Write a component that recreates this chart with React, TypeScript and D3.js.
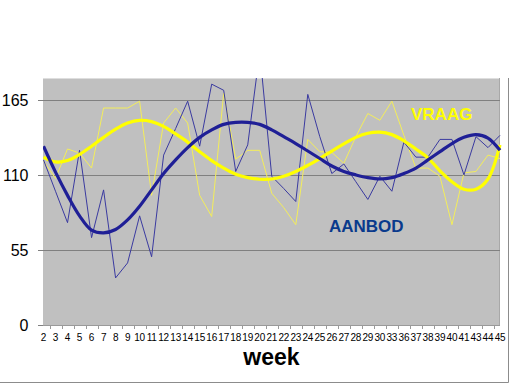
import React, { useEffect, useRef } from 'react';
import * as d3 from 'd3';

const weeks = [
  '2', '3', '4', '5', '6', '7', '8', '9', '10', '11', '12', '13', '14', '15', '16', '17', '18', '19', '20',
  '21', '22', '23', '24', '25', '26', '27', '28', '29', '30', '33', '36', '37', '38', '39', '40', '41', '43', '44', '45'
];

// weekly supply (AANBOD) and demand (VRAAG)
const aanbod = [
  121, 98, 75, 128, 64, 99, 34.5, 45.5, 80, 50, 124.5, 144, 164, 131, 176.5, 172, 112.5, 132, 200,
  109, 100, 90.5, 169, 138, 111, 118, 105, 92, 109, 98, 134, 123, 123, 136, 136, 110, 138, 130, 139
];
const vraag = [
  120, 107.5, 129, 126, 115, 159, 159, 159, 164, 95, 148, 159, 148, 95, 79.5, 170, 121.5, 128, 128,
  96.5, 86, 73.5, 136, 127, 126.5, 118.5, 138, 155, 150, 164, 139, 115, 115, 109, 73.5, 111.5, 112.5, 124.5, 122
];

// trend lines
const aanbodTrend = [
  131, 112, 95, 80, 69.5, 67.5, 70, 77, 87, 99, 111, 121, 130, 137.5, 143, 147, 148.5, 148.5, 147,
  143, 138, 133, 127.5, 122, 116.5, 112.5, 110, 108, 107, 108, 111, 115, 121, 127, 133, 137.5, 139.5, 137, 128
];
const vraagTrend = [
  123, 119.5, 120.5, 125, 131, 137.5, 143.5, 148, 150, 149, 145.5, 140, 134, 127, 120.5, 115, 110.5, 108, 106.8,
  107, 109, 112.5, 117, 122, 127.5, 132.7, 137.5, 140.5, 141.3, 139.5, 135, 129, 122.5, 113, 105, 99.5, 99.5, 107, 132
];

const yTicks = [0, 55, 110, 165];

const App: React.FC = () => {
  const svgRef = useRef<SVGSVGElement>(null);

  useEffect(() => {
    if (!svgRef.current) return;
    const svg = d3.select(svgRef.current);
    svg.selectAll('*').remove();

    const left = 43;
    const right = 500;
    const top = 78;
    const bottom = 325;

    const x = d3.scalePoint<string>().domain(weeks).range([left + 0.5, right]);
    const y = d3.scaleLinear().domain([0, 181]).range([bottom, top]);
    const step = x.step();

    // outer frame (right + bottom only)
    svg.append('path')
      .attr('d', `M0,382.5 H508.5 V${top}`)
      .attr('fill', 'none')
      .attr('stroke', '#8c8c8c')
      .attr('stroke-width', 1);

    // plot background
    svg.append('rect')
      .attr('x', left)
      .attr('y', top)
      .attr('width', right - left)
      .attr('height', bottom - top)
      .attr('fill', '#c0c0c0');

    svg.append('line')
      .attr('x1', left).attr('x2', right)
      .attr('y1', top + 0.5).attr('y2', top + 0.5)
      .attr('stroke', '#dedede');
    svg.append('line')
      .attr('x1', right - 0.5).attr('x2', right - 0.5)
      .attr('y1', top).attr('y2', bottom)
      .attr('stroke', '#a8a8a8');

    // gridlines + y ticks
    svg.selectAll('.grid')
      .data(yTicks.filter(d => d > 0))
      .enter()
      .append('line')
      .attr('x1', left - 5)
      .attr('x2', right)
      .attr('y1', d => Math.round(y(d)) + 0.5)
      .attr('y2', d => Math.round(y(d)) + 0.5)
      .attr('stroke', '#808080')
      .attr('stroke-width', 1.2);

    svg.append('line')
      .attr('x1', left - 5).attr('x2', left)
      .attr('y1', bottom + 0.5).attr('y2', bottom + 0.5)
      .attr('stroke', '#808080');

    svg.selectAll('.ylab')
      .data(yTicks)
      .enter()
      .append('text')
      .attr('x', 28.5)
      .attr('y', d => y(d) + 6)
      .attr('text-anchor', 'end')
      .style('font-family', 'Liberation Sans, Arial, sans-serif')
      .style('font-size', '16px')
      .style('fill', '#000')
      .text(d => String(d));

    // x axis
    svg.append('line')
      .attr('x1', left).attr('x2', right)
      .attr('y1', bottom + 0.5).attr('y2', bottom + 0.5)
      .attr('stroke', '#9a9a9a');

    svg.selectAll('.xtick')
      .data(weeks.slice(0, -1))
      .enter()
      .append('line')
      .attr('x1', d => Math.round((x(d) as number) + step / 2) + 0.5)
      .attr('x2', d => Math.round((x(d) as number) + step / 2) + 0.5)
      .attr('y1', bottom)
      .attr('y2', bottom + 4)
      .attr('stroke', '#9a9a9a');

    svg.selectAll('.xlab')
      .data(weeks)
      .enter()
      .append('text')
      .attr('x', d => x(d) as number)
      .attr('y', 341)
      .attr('text-anchor', 'middle')
      .style('font-family', 'Liberation Sans, Arial, sans-serif')
      .style('font-size', '10px')
      .style('letter-spacing', '-0.2px')
      .style('fill', '#000')
      .text(d => d);

    svg.append('text')
      .attr('x', (left + right) / 2)
      .attr('y', 365)
      .attr('text-anchor', 'middle')
      .style('font-family', 'Liberation Sans, Arial, sans-serif')
      .style('font-size', '23px')
      .style('font-weight', 'bold')
      .style('fill', '#000')
      .text('week');

    // lines
    svg.append('clipPath')
      .attr('id', 'plot-clip')
      .append('rect')
      .attr('x', left)
      .attr('y', top)
      .attr('width', right - left + 2)
      .attr('height', bottom - top);

    const g = svg.append('g').attr('clip-path', 'url(#plot-clip)');

    const raw = d3.line<number>()
      .x((_, i) => x(weeks[i]) as number)
      .y(d => y(d));
    const smooth = d3.line<number>()
      .x((_, i) => x(weeks[i]) as number)
      .y(d => y(d))
      .curve(d3.curveCatmullRom);

    g.append('path')
      .datum(vraag)
      .attr('d', raw)
      .attr('fill', 'none')
      .attr('stroke', '#f4ee5a')
      .attr('stroke-width', 1);

    g.append('path')
      .datum(aanbod)
      .attr('d', raw)
      .attr('fill', 'none')
      .attr('stroke', '#3a3aa0')
      .attr('stroke-width', 1);

    g.append('path')
      .datum(vraagTrend)
      .attr('d', smooth)
      .attr('fill', 'none')
      .attr('stroke', '#ffff00')
      .attr('stroke-width', 3.2);

    g.append('path')
      .datum(aanbodTrend)
      .attr('d', smooth)
      .attr('fill', 'none')
      .attr('stroke', '#1f1f96')
      .attr('stroke-width', 3.2);

    // series labels
    svg.append('text')
      .attr('x', 411)
      .attr('y', 120)
      .style('font-family', 'Liberation Sans, Arial, sans-serif')
      .style('font-size', '17px')
      .style('font-weight', 'bold')
      .style('fill', '#ffff00')
      .text('VRAAG');

    svg.append('text')
      .attr('x', 329)
      .attr('y', 232)
      .style('font-family', 'Liberation Sans, Arial, sans-serif')
      .style('font-size', '17px')
      .style('font-weight', 'bold')
      .style('fill', '#0a3a8c')
      .text('AANBOD');
  }, []);

  return (
    <svg
      ref={svgRef}
      width={512}
      height={384}
      style={{ position: 'absolute', left: 0, top: 0, background: '#fff' }}
    />
  );
};

export default App;
